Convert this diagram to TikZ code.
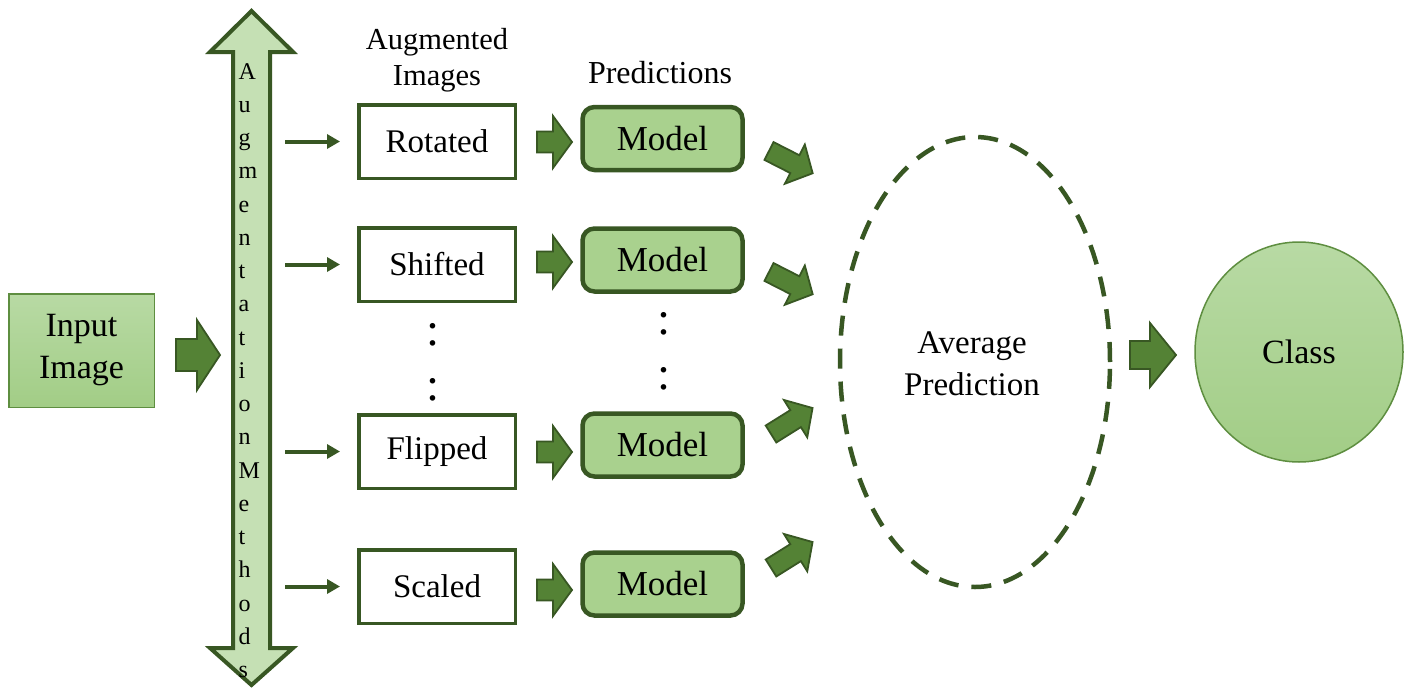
\documentclass[tikz,border=0pt]{standalone}
\usepackage{fontspec}
\setmainfont{Liberation Serif}
\usetikzlibrary{arrows.meta,shapes.geometric}
\definecolor{dkgreen}{HTML}{385723}
\definecolor{midgreen}{HTML}{548235}
\definecolor{modelfill}{HTML}{A9D18E}
\definecolor{lightfill}{HTML}{C5E0B4}
\definecolor{gradtop}{HTML}{B8DAA4}
\definecolor{gradbot}{HTML}{A2CD86}
\definecolor{thinborder}{HTML}{5E8E40}
% fat block arrow: #1 tail point, #2 angle, #3 length, #4 shaft half width, #5 head half width, #6 head length
\newcommand\fatarrow[6]{%
  \draw[fatarr, shift={#1}, rotate=#2] (0,-#4) -- ({#3-#6},-#4) -- ({#3-#6},-#5) -- (#3,0)
    -- ({#3-#6},#5) -- ({#3-#6},#4) -- (0,#4) -- cycle;}
\begin{document}
\begin{tikzpicture}[x=1pt,y=-1pt,
  fatarr/.style={fill=midgreen, draw=dkgreen, line width=1.8pt, line join=miter},
  augbox/.style={draw=dkgreen, line width=3.5pt, fill=white, minimum width=156.5pt, minimum height=73.5pt, inner sep=0pt, font=\fontsize{33}{40}\selectfont},
  modelbox/.style={draw=dkgreen, line width=4.5pt, fill=modelfill, rounded corners=12pt, minimum width=160pt, minimum height=63pt, inner sep=0pt, font=\fontsize{35}{42}\selectfont},
  gradnode/.style={draw=thinborder, line width=1.5pt, top color=gradtop, bottom color=gradbot, inner sep=0pt},
  label/.style={align=center, inner sep=0pt},
  vletter/.style={anchor=base west, inner sep=0pt, font=\fontsize{24}{28}\selectfont},
  dotsym/.style={anchor=base, inner sep=0pt, font=\fontsize{47}{50}\selectfont},
  thinarrow/.style={draw=dkgreen, line width=4pt, -{Triangle[length=13pt,width=14pt]}},
  dashell/.style={ellipse, draw=dkgreen, line width=4.5pt, dash pattern=on 20pt off 13pt, minimum width=270pt, minimum height=450pt, inner sep=0pt}
]
\useasboundingbox[fill=white] (0,0) rectangle (1408,688);

% input
\node[gradnode, minimum width=145.5pt, minimum height=113.5pt, label, font=\fontsize{34}{42}\selectfont] (input) at (81.5,350.5) {Input\\Image};
\fatarrow{(176,355)}{0}{44}{16}{35}{23}

% vertical double arrow
\draw[fill=lightfill, draw=dkgreen, line width=4pt, line join=miter]
  (233,52) -- (210,52) -- (251.5,11) -- (293,52) -- (270,52) -- (270,648) -- (293,648)
  -- (251.5,685) -- (210,648) -- (233,648) -- cycle;
\foreach \c [count=\i] in {A,u,g,m,e,n,t,a,t,i,o,n,M,e,t,h,o,d,s}
  \node[vletter] (v\i) at (238.5,{79+(\i-1)*33.25}) {\c};

% headers
\node[label, font=\fontsize{30.5}{36}\selectfont] (hdraug) at (437,60) {Augmented\\Images};
\node[label, font=\fontsize{32}{38}\selectfont] (hdrpred) at (660,73) {Predictions};

% augmented boxes
\node[augbox] (rot) at (437,141.5) {Rotated};
\node[augbox] (shi) at (437,264.5) {Shifted};
\node[augbox] (fli) at (437,451.5) {Flipped};
\node[augbox] (sca) at (437,586.5) {Scaled};

% thin arrows
\coordinate (s1) at (285,141.5);
\coordinate (s2) at (285,264.5);
\coordinate (s3) at (285,451.5);
\coordinate (s4) at (285,586.5);
\draw[thinarrow, shorten >=17pt] (s1) -- (rot.west);
\draw[thinarrow, shorten >=17pt] (s2) -- (shi.west);
\draw[thinarrow, shorten >=17pt] (s3) -- (fli.west);
\draw[thinarrow, shorten >=17pt] (s4) -- (sca.west);

% models
\node[modelbox] (m1) at (662.5,138.5) {Model};
\node[modelbox] (m2) at (662.5,260) {Model};
\node[modelbox] (m3) at (662.5,445) {Model};
\node[modelbox] (m4) at (662.5,584) {Model};

\fatarrow{(537,142)}{0}{35}{10.5}{26}{19}
\fatarrow{(537,262)}{0}{35}{10.5}{26}{19}
\fatarrow{(537,452)}{0}{35}{10.5}{26}{19}
\fatarrow{(537,590)}{0}{35}{10.5}{26}{19}

% dots
\node[dotsym] (d1) at (433,345) {:};
\node[dotsym] (d2) at (433,400) {:};
\node[dotsym] (d3) at (664,334) {:};
\node[dotsym] (d4) at (664,389) {:};

% diagonal arrows
\fatarrow{(769,151)}{-27}{49}{10}{22}{20}
\fatarrow{(769,272)}{-27}{49}{10}{22}{20}
\fatarrow{(771,434)}{32}{49}{10}{22}{20}
\fatarrow{(771,568)}{32}{49}{10}{22}{20}

% average
\node[dashell] (avg) at (975,362) {};
\node[label, font=\fontsize{33}{42}\selectfont] (avgtxt) at (972,364) {Average\\Prediction};

\fatarrow{(1130,355)}{0}{46}{14}{32}{26}

% class
\node[gradnode, ellipse, minimum width=208pt, minimum height=220pt, font=\fontsize{34}{40}\selectfont] (class) at (1299,352) {Class};
\end{tikzpicture}
\end{document}
